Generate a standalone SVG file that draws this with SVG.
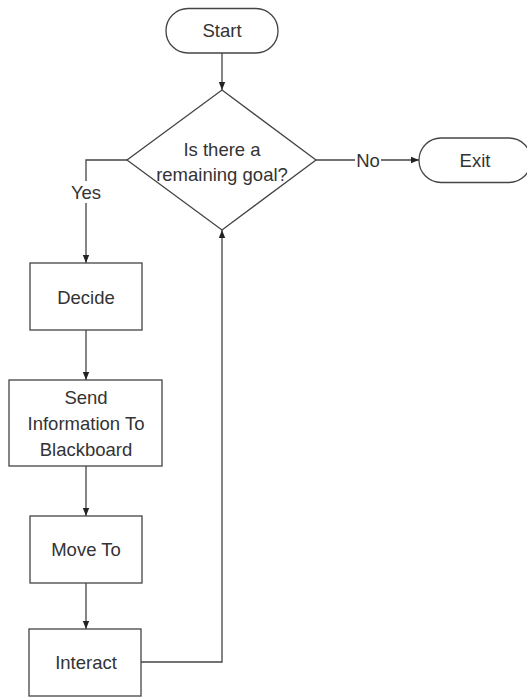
<svg xmlns="http://www.w3.org/2000/svg" width="527" height="697" viewBox="0 0 527 697">
<style>
.shape{fill:#fff;stroke:#444;stroke-width:1.3}
.lbl{font-family:"Liberation Sans",Arial,sans-serif;font-size:18.5px;fill:#333;text-anchor:middle;dominant-baseline:central}
.conn{fill:none;stroke:#444;stroke-width:1.3}
.bg{fill:#fff}
</style>
<defs>
<marker id="arr" viewBox="0 0 10 10" refX="10" refY="5" markerWidth="8" markerHeight="8" markerUnits="userSpaceOnUse" orient="auto">
<path d="M0,1 L10,5 L0,9 Z" fill="#222"/>
</marker>
</defs>
<rect width="527" height="697" fill="#fff"/>
<g id="connectors">
<path class="conn" d="M222,53 V90" marker-end="url(#arr)"/>
<path class="conn" d="M316,160 H419" marker-end="url(#arr)"/>
<path class="conn" d="M127,160 H86 V263" marker-end="url(#arr)"/>
<path class="conn" d="M86,330 V380" marker-end="url(#arr)"/>
<path class="conn" d="M86,466 V516" marker-end="url(#arr)"/>
<path class="conn" d="M86,583 V629" marker-end="url(#arr)"/>
<path class="conn" d="M141,662 H222 V230" marker-end="url(#arr)"/>
<rect class="bg" x="355" y="150" width="26" height="20"/>
<text class="lbl" x="368" y="160">No</text>
<rect class="bg" x="70" y="181" width="32" height="22"/>
<text class="lbl" x="86" y="192">Yes</text>
</g>
<g id="start">
<rect class="shape" x="166" y="8.5" width="112" height="44.5" rx="22" ry="22"/>
<text class="lbl" x="222" y="30.5">Start</text>
</g>
<g id="decision">
<polygon class="shape" points="222,90 316,160 222,230 127,160"/>
<text class="lbl" x="222" y="149">Is there a</text>
<text class="lbl" x="222" y="174">remaining goal?</text>
</g>
<g id="exit">
<rect class="shape" x="419" y="138" width="112" height="44.5" rx="22" ry="22"/>
<text class="lbl" x="475" y="160">Exit</text>
</g>
<g id="decide">
<rect class="shape" x="30" y="263" width="112" height="67"/>
<text class="lbl" x="86" y="297">Decide</text>
</g>
<g id="send">
<rect class="shape" x="9" y="380" width="153" height="86"/>
<text class="lbl" x="86" y="397">Send</text>
<text class="lbl" x="86" y="423">Information To</text>
<text class="lbl" x="86" y="449">Blackboard</text>
</g>
<g id="moveto">
<rect class="shape" x="30" y="516" width="112" height="67"/>
<text class="lbl" x="86" y="549">Move To</text>
</g>
<g id="interact">
<rect class="shape" x="29" y="629" width="112" height="67"/>
<text class="lbl" x="86" y="662">Interact</text>
</g>
</svg>
